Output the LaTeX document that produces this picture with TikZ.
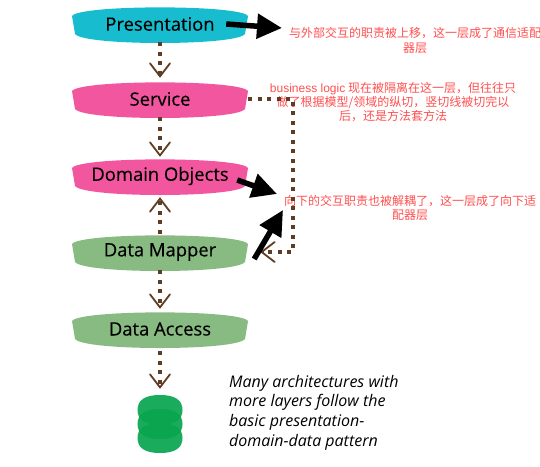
\documentclass[tikz,border=0pt]{standalone}
\usepackage{fontspec}
\usepackage{tikz}
\usetikzlibrary{arrows.meta}
\setmainfont{Open Sans}
\newfontfamily\layerfont[FakeBold=0.25]{Open Sans}
\newfontfamily\cjkfont{Noto Sans CJK SC}
\newfontfamily\notefont{Liberation Sans}

\definecolor{layercyan}{HTML}{17BDCF}
\definecolor{layerpink}{HTML}{F2569F}
\definecolor{layergreen}{HTML}{88BB82}
\definecolor{storegreen}{HTML}{08A44E}
\definecolor{linebrown}{HTML}{5E3D24}
\definecolor{notered}{HTML}{FF4F4F}

\tikzset{
    layertext/.style={minimum width=176pt, minimum height=36pt, inner sep=0pt, yshift=1pt, font=\fontsize{18.4}{20}\layerfont},
    notetext/.style={text=notered, align=center, inner sep=0pt, font=\fontsize{12}{14}\cjkfont},
    linkdots/.style={draw=linebrown, line width=3.5pt, dash pattern=on 4pt off 5.5pt, -{Straight Barb[length=13pt, width=20pt, line width=1.8pt, line cap=round]}},
    bigarrow/.style={line width=5.5pt, -{Triangle[length=25pt, width=24pt]}},
}

% one layer: name, position, colour, text
\newcommand{\layerblob}[4]{
    \fill[#3, shift={(#2)}] (-88, -9) .. controls (-80, -20.5) and (80, -20.5) .. (88, -9)
        .. controls (87, -3) and (86, 3) .. (85, 9)
        .. controls (76, 21) and (-76, 21) .. (-85, 9)
        .. controls (-86, 3) and (-87, -3) .. (-88, -9) -- cycle;
    \node[layertext] (#1) at (#2) {#4};
}

\begin{document}
\begin{tikzpicture}[x=1pt, y=-1pt]
    \useasboundingbox (0, 0) rectangle (540, 466);

    \layerblob{presentation}{160, 25}{layercyan}{Presentation}
    \layerblob{service}{160, 100}{layerpink}{Service}
    \layerblob{domain}{160, 177}{layerpink}{Domain Objects}
    \layerblob{mapper}{160, 253}{layergreen}{Data Mapper}
    \layerblob{access}{160, 330}{layergreen}{Data Access}

    % database stack
    \foreach \ypos in {410, 424, 438}
        \fill[storegreen, fill opacity=0.92, shift={(160, \ypos)}] (-22.5, 0) .. controls (-22.5, -10) and (-15, -15) .. (0, -15)
            .. controls (15, -15) and (22.5, -10) .. (22.5, 0)
            .. controls (22.5, 10) and (15, 15) .. (0, 15)
            .. controls (-15, 15) and (-22.5, 10) .. (-22.5, 0) -- cycle;
    \node[minimum width=45pt, minimum height=58pt, inner sep=0pt] (store) at (160, 424) {};

    \node[notetext, font=\fontsize{12}{15}\cjkfont] (upnote) at (415, 40) {与外部交互的职责被上移，这一层成了通信适配\\器层};
    \node[notetext] (logicnote) at (393, 102) {{\notefont business logic} 现在被隔离在这一层，但往往只\\做了根据模型/领域的纵切，竖切线被切完以\\后，还是方法套方法};
    \node[notetext] (downnote) at (410, 208) {向下的交互职责也被解耦了，这一层成了向下适\\配器层};

    \node[anchor=north west, inner sep=0pt, align=left, font=\fontsize{16}{19.6}\selectfont\itshape] (remark) at (229, 375)
        {Many architectures with\\more layers follow the\\basic presentation-\\domain-data pattern};

    \draw[linkdots, shorten >=3pt] (presentation.south) -- (service.north);
    \draw[linkdots, shorten >=1pt] (service.south) -- (domain.north);
    \draw[linkdots, shorten >=3pt] (mapper.north) -- (domain.south);
    \draw[linkdots, shorten >=2pt] (mapper.south) -- (access.north);
    \draw[linkdots, shorten >=6pt, shorten <=4pt] (access.south) -- (store.north);

    \coordinate (cutline) at (293, 180);
    \draw[linkdots, shorten >=12pt] (service.east) -| (cutline) |- (mapper.east);

    \coordinate (uptip) at (282, 28);
    \coordinate (domaintip) at (277, 194);
    \coordinate (mappertip) at (283, 210);
    \draw[bigarrow] ([xshift=-22pt]presentation.east) -- (uptip);
    \draw[bigarrow] ([xshift=-11pt, yshift=-4pt]domain.east) -- (domaintip);
    \draw[bigarrow] ([xshift=6pt, yshift=-7pt]mapper.east) -- (mappertip);
\end{tikzpicture}
\end{document}
